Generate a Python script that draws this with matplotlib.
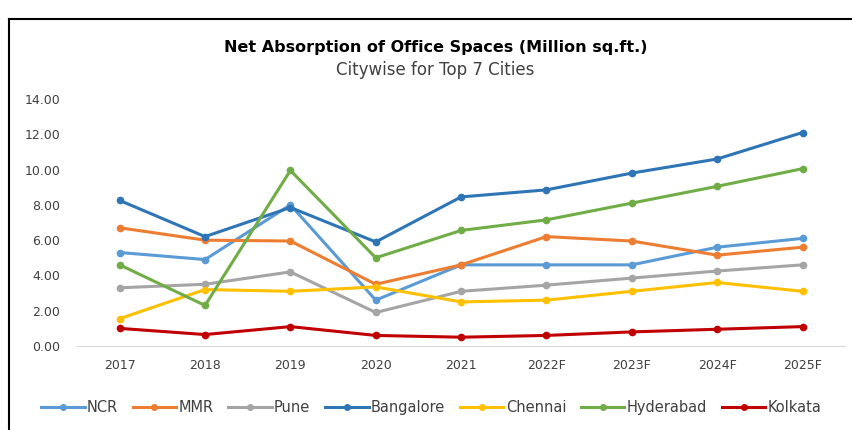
import matplotlib.pyplot as plt
from matplotlib.lines import Line2D

years = ["2017", "2018", "2019", "2020", "2021", "2022F", "2023F", "2024F", "2025F"]

ncr = [5.3, 4.9, 8.0, 2.6, 4.6, 4.6, 4.6, 5.6, 6.1]
mmr = [6.7, 6.0, 5.95, 3.5, 4.6, 6.2, 5.95, 5.15, 5.6]
pune = [3.3, 3.5, 4.2, 1.9, 3.1, 3.45, 3.85, 4.25, 4.6]
bangalore = [8.25, 6.2, 7.85, 5.9, 8.45, 8.85, 9.8, 10.6, 12.1]
chennai = [1.55, 3.2, 3.1, 3.35, 2.5, 2.6, 3.1, 3.6, 3.1]
hyderabad = [4.6, 2.3, 9.95, 5.0, 6.55, 7.15, 8.1, 9.05, 10.05]
kolkata = [1.0, 0.65, 1.1, 0.6, 0.5, 0.6, 0.8, 0.95, 1.1]

series = [
    ("NCR", ncr, "#5B9BD5"),
    ("MMR", mmr, "#ED7D31"),
    ("Pune", pune, "#A5A5A5"),
    ("Bangalore", bangalore, "#2E75B6"),
    ("Chennai", chennai, "#FFC000"),
    ("Hyderabad", hyderabad, "#70AD47"),
    ("Kolkata", kolkata, "#C00000"),
]

plt.rcParams['font.family'] = ['DejaVu Sans']

fig = plt.figure(figsize=(8.52, 4.30), dpi=100)
ax = fig.add_axes([0.0904, 0.1953, 0.9016, 0.5745])

x = list(range(len(years)))
for name, vals, col in series:
    ax.plot(x, vals, color=col, lw=2.2, marker="o", ms=4.5, label=name)

ax.set_xlim(-0.5, len(years) - 0.5)
ax.set_ylim(0, 14)
ax.set_yticks(range(0, 15, 2))
ax.set_yticklabels(["%.2f" % v for v in range(0, 15, 2)])
ax.set_xticks(x)
ax.set_xticklabels(years)
ax.tick_params(axis="both", length=0, labelsize=9, colors="#404040")
ax.tick_params(axis="x", pad=9)
ax.tick_params(axis="y", pad=12)
for s in ["top", "right", "left"]:
    ax.spines[s].set_visible(False)
ax.spines["bottom"].set_color("#D9D9D9")

fig.text(0.511, 0.89, "Net Absorption of Office Spaces (Million sq.ft.)",
         ha="center", va="center", fontsize=11.5, fontweight="bold", color="#000000")
fig.text(0.511, 0.838, "Citywise for Top 7 Cities",
         ha="center", va="center", fontsize=12, color="#404040")

handles = [Line2D([], [], color=c, lw=2.2, marker="o", ms=4) for _, _, c in series]
fig.legend(handles, [n for n, _, _ in series], loc="center", bbox_to_anchor=(0.506, 0.053),
           ncol=7, frameon=False, fontsize=10.5, handlelength=3.0, handletextpad=0.15,
           columnspacing=1.0, labelcolor="#404040")

# outer frame (top and left edges visible)
fig.add_artist(Line2D([9 / 852, 1], [1 - 19 / 430, 1 - 19 / 430], color="black", lw=1.5,
                      transform=fig.transFigure))
fig.add_artist(Line2D([9 / 852, 9 / 852], [0, 1 - 19 / 430], color="black", lw=1.5,
                      transform=fig.transFigure))

fig.savefig("out.png", dpi=100)
